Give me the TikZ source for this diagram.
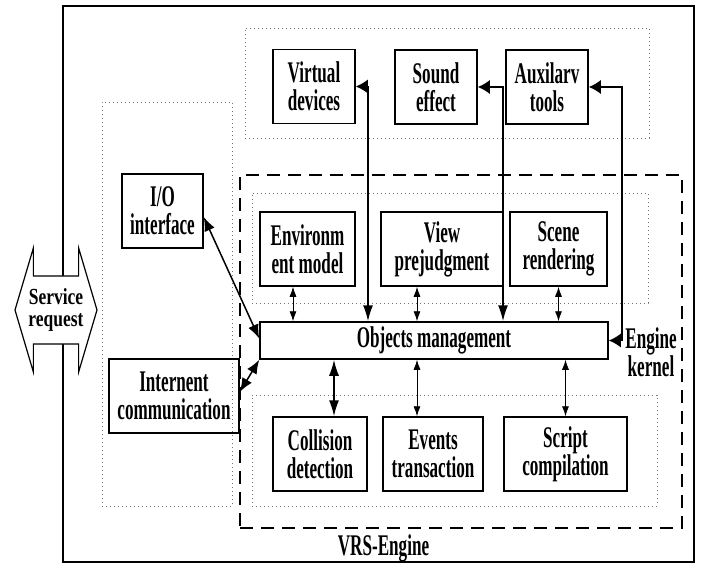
\documentclass[tikz,border=0pt]{standalone}
\usepackage{fontspec}
\setmainfont{Liberation Serif}[FakeStretch=0.57]
\newfontfamily\reqfont{Liberation Serif}[FakeStretch=0.76]
\usetikzlibrary{arrows.meta,shapes.arrows,calc}

\tikzset{
	hd/.tip={Latex[length=12pt,width=14pt]},
	vd/.tip={Latex[length=16pt,width=10pt]},
	dg/.tip={Latex[length=14pt,width=11pt]},
	th/.tip={Latex[length=10pt,width=7pt]}
}

\begin{document}
\begin{tikzpicture}[
		x=1pt,y=-1pt,
		font=\bfseries\fontsize{30}{28}\selectfont,
		block/.style={draw,rectangle,line width=1.5pt,minimum height=74pt,align=center,inner sep=0pt},
		group/.style={draw=black!55,dash pattern=on 0.8pt off 3.2pt,line width=0.7pt,rectangle,inner sep=0pt},
		link/.style={line width=1.5pt},
		thinlink/.style={{th}-{th},line width=0.8pt}
		]
	\useasboundingbox (0,0) rectangle (701,565);
	
	% Frames
	\node[draw,line width=1.5pt,minimum width=631pt,minimum height=556pt] (vrs) at (378.5,284) {};
	\node[group,minimum width=404pt,minimum height=110pt] (periph) at (447,83) {};
	\node[group,minimum width=130pt,minimum height=404pt] (iface) at (167,304) {};
	\node[draw,dash pattern=on 13pt off 8pt,line width=1.5pt,minimum width=442pt,minimum height=353pt] (kernel) at (461,351.5) {};
	\node[group,minimum width=396pt,minimum height=110pt] (upper) at (450,248) {};
	\node[group,minimum width=405pt,minimum height=111pt] (lower) at (454.5,450.5) {};
	
	% Service request
	\node[draw,double arrow,fill=white,line width=1.2pt,double arrow head extend=28pt,double arrow tip angle=147,
		minimum height=82pt,inner xsep=0pt,inner ysep=12pt,align=center,
		font=\reqfont\bfseries\fontsize{23}{22}\selectfont] (svc) at (56,310) {Service\\request};
	
	% Peripheral modules
	\node[block,minimum width=82pt] (virt) at (314,86.5) {Virtual\\devices};
	\node[block,minimum width=82pt] (sound) at (436,87) {Sound\\effect};
	\node[block,minimum width=82pt] (aux) at (547,87) {Auxilarv\\tools};
	
	% Interfaces
	\node[block,minimum width=81pt] (io) at (162.5,211) {I/O\\interface};
	\node[block,minimum width=130pt] (inet) at (174,396) {Internent\\communication};
	
	% Kernel modules
	\node[block,minimum width=95pt] (env) at (307.5,249) {Environm\\ent model};
	\node[block,minimum width=122pt] (view) at (442,249) {View\\prejudgment};
	\node[block,minimum width=97pt] (scene) at (558.5,249) {Scene\\rendering};
	\node[block,minimum width=348pt,minimum height=37pt] (obj) at (434,340.5) {Objects management};
	\node[block,minimum width=94pt] (coll) at (320,454) {Collision\\detection};
	\node[block,minimum width=100pt] (event) at (433,454) {Events\\transaction};
	\node[block,minimum width=123pt] (script) at (565.5,454) {Script\\compilation};
	
	% Labels
	\node[align=center] (kernlbl) at (651,352) {Engine\\kernel};
	\node[anchor=base] (vrslbl) at (383.5,555) {VRS-Engine};
	
	% Links
	\draw[link,{dg}-{dg}] ([yshift=-6pt]io.east) -- ([yshift=2pt]obj.west);
	\draw[link,{dg}-{dg}] ([yshift=4pt]inet.east) -- (obj.south west);
	\draw[thinlink] ([xshift=-14.5pt]env.south) -- ([xshift=-14.5pt]env.south |- obj.north);
	\draw[thinlink] ([xshift=-25pt]view.south) -- ([xshift=-25pt]view.south |- obj.north);
	\draw[thinlink] (scene.south) -- (scene.south |- obj.north);
	\draw[link,{vd}-{vd}] ([xshift=14pt]coll.north) -- ([xshift=14pt]coll.north |- obj.south);
	\draw[thinlink] ([xshift=-16pt]event.north) -- ([xshift=-16pt]event.north |- obj.south);
	\draw[thinlink] (script.north) -- (script.north |- obj.south);
	\draw[link,{hd}-{vd}] (virt.east) -| ([xshift=-66pt]obj.north);
	\draw[link,{hd}-{vd}] (sound.east) -| ([xshift=69pt]obj.north);
	\draw[link,{hd}-{hd}] (aux.east) -- ++(33,0) |- (obj.east);
	
\end{tikzpicture}
\end{document}
